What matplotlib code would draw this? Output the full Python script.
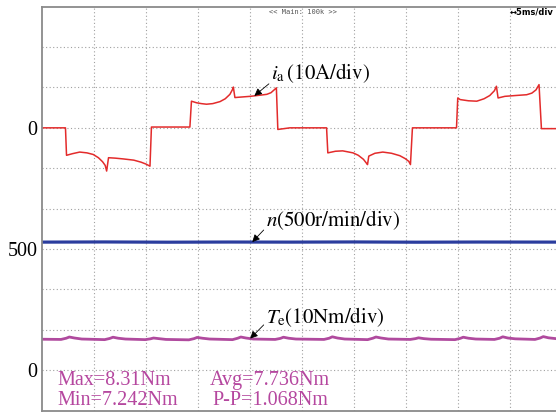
import numpy as np
import matplotlib
matplotlib.use("Agg")
import matplotlib.pyplot as plt

plt.rcParams['font.family'] = 'serif'
plt.rcParams['font.serif'] = ['Liberation Serif', 'DejaVu Serif']
plt.rcParams['mathtext.fontset'] = 'stix'

# phase current i_a (time in ms, current in A)
ia_t = [0, 2.23, 2.33, 2.9, 3.6, 4.3, 4.9, 5.4, 5.8, 6.05, 6.19, 6.37, 7.0,
        7.8, 8.8, 9.5, 10.0, 10.36,
        10.50, 14.20, 14.35, 14.85, 15.3, 15.8, 16.4, 17.1, 17.6, 18.05, 18.3,
        18.38, 18.53, 19.0, 20.0, 21.0, 21.6, 22.0, 22.35, 22.52,
        22.66, 23.82, 27.35, 27.47, 28.2, 28.9, 29.9, 30.4, 30.9, 31.2, 31.29,
        31.41, 32.0, 32.76, 33.6, 34.4, 34.9, 35.26, 35.42,
        35.61, 39.85, 39.97, 40.2, 41.0, 41.8, 42.5, 43.05, 43.5, 43.69,
        43.85, 44.5, 45.5, 46.6, 47.1, 47.5, 47.79, 48.02, 50]
ia_v = [0, 0, -6.8, -6.4, -6.0, -6.2, -6.6, -7.4, -8.4, -9.3, -10.7, -7.4, -7.5,
        -7.7, -8.0, -8.5, -9.0, -9.5,
        0.2, 0.2, 6.6, 6.2, 6.0, 5.85, 6.0, 6.5, 7.2, 8.3, 9.5,
        10.1, 7.5, 7.6, 7.8, 8.1, 8.3, 8.7, 9.5, 9.9,
        -0.4, 0, 0, -6.2, -5.8, -5.7, -6.2, -6.8, -7.8, -8.8, -9.1,
        -7.0, -6.3, -6.0, -6.3, -6.9, -7.6, -8.3, -9.1,
        0, 0, 7.4, 7.0, 6.7, 6.6, 7.2, 8.0, 9.2, 10.3,
        7.4, 7.8, 8.0, 8.2, 8.6, 9.4, 10.7, -0.2, -0.2]

# speed n (r/min)
n_t = [0, 6, 12, 18, 24, 30, 36, 42, 50]
n_v = [585, 587, 584, 586, 585, 587, 584, 586, 585]

# electromagnetic torque Te (Nm)
te_t = [0, 1.8, 2.3, 2.6, 3.1, 3.8,
        6.0, 6.5, 6.8, 7.3, 8.0,
        9.9, 10.4, 10.7, 11.2, 11.9,
        14.1, 14.6, 14.9, 15.4, 16.1,
        18.3, 18.8, 19.1, 19.6, 20.3,
        22.4, 22.9, 23.2, 23.7, 24.4,
        27.1, 27.6, 27.9, 28.4, 29.1,
        31.3, 31.8, 32.1, 32.6, 33.3,
        35.4, 35.9, 36.2, 36.7, 37.4,
        39.7, 40.2, 40.5, 41.0, 41.7,
        43.5, 44.0, 44.3, 44.8, 45.5,
        47.4, 47.9, 48.2, 48.7, 49.4, 50]
te_v = [7.65, 7.6, 7.9, 8.2, 7.95, 7.7,
        7.55, 7.85, 8.15, 7.9, 7.7,
        7.55, 7.75, 7.95, 7.8, 7.6,
        7.5, 7.8, 8.1, 7.9, 7.7,
        7.55, 7.9, 8.2, 7.95, 7.7,
        7.6, 7.85, 8.15, 7.9, 7.7,
        7.6, 7.9, 8.25, 7.95, 7.7,
        7.55, 7.9, 8.2, 7.95, 7.7,
        7.6, 7.8, 8.0, 7.8, 7.65,
        7.55, 7.85, 8.15, 7.9, 7.7,
        7.6, 7.9, 8.25, 7.95, 7.75,
        7.6, 7.95, 8.3, 8.0, 7.8, 7.75]

# scope channel settings: zero position (div) and scale per div
ia_zero, ia_scale = 7, 10.0
n_zero, n_scale = 3, 500.0
te_zero, te_scale = 1, 10.0

def to_div(vals, zero, scale):
    return zero + np.asarray(vals) / scale

W, H = 556, 412
fig = plt.figure(figsize=(W / 100, H / 100), dpi=100)
ax = fig.add_axes([42.3 / W, 1.5 / H, (562 - 42.3) / W, (410.5 - 6.7) / H])
ax.set_xlim(0, 50)
ax.set_ylim(0, 10)

ax.set_xticks(np.arange(5, 50, 5))
ax.set_yticks(np.arange(1, 10))
ax.set_xticklabels([])
ylabels = {1: '0', 4: '500', 7: '0'}
ax.set_yticklabels([ylabels.get(i, '') for i in range(1, 10)], fontsize=14.5)
ax.tick_params(length=0, pad=3.5)
ax.grid(True, color='#a0a0a0', lw=0.8, linestyle=(0, (1, 2.2)))
for s in ax.spines.values():
    s.set_color('#8a8a8a')
    s.set_linewidth(1.3)

red, blue, mag = '#e32b2b', '#2b3d9e', '#b04a9e'
ax.plot(ia_t, to_div(ia_v, ia_zero, ia_scale), color=red, lw=1.1)
ax.plot(n_t, to_div(n_v, n_zero, n_scale), color=blue, lw=2.3)
ax.plot(te_t, to_div(te_v, te_zero, te_scale), color=mag, lw=2.0)

arrow = dict(arrowstyle='-|>', color='black', lw=0.6, mutation_scale=11,
             shrinkA=0, shrinkB=0)

# annotations
t_ia = 20.4
ax.text(22.0, 8.35, r'$i_{\mathrm{a}}\,(\mathrm{10A/div})$', fontsize=15,
        va='center', ha='left')
ax.annotate('', xy=(t_ia, to_div(np.interp(t_ia, ia_t, ia_v), ia_zero, ia_scale)),
            xytext=(21.8, 8.09), arrowprops=arrow)

t_n = 20.2
ax.text(21.5, 4.72, r'$n\left(\mathrm{500r/min/div}\right)$', fontsize=15,
        va='center', ha='left')
ax.annotate('', xy=(t_n, to_div(np.interp(t_n, n_t, n_v), n_zero, n_scale)),
            xytext=(21.3, 4.47), arrowprops=arrow)

t_te = 20.0
ax.text(21.5, 2.32, r'$T_{\mathrm{e}}\left(\mathrm{10Nm/div}\right)$', fontsize=15,
        va='center', ha='left')
ax.annotate('', xy=(t_te, to_div(np.interp(t_te, te_t, te_v), te_zero, te_scale)),
            xytext=(21.3, 2.12), arrowprops=arrow)

# torque statistics
stat_kw = dict(fontsize=14.5, color='#b5479f', va='center', ha='left')
ax.text(1.5, 0.755, 'Max=8.31Nm', **stat_kw)
ax.text(1.5, 0.26, 'Min=7.242Nm', **stat_kw)
ax.text(16.1, 0.755, 'Avg=7.736Nm', **stat_kw)
ax.text(16.4, 0.26, 'P-P=1.068Nm', **stat_kw)

# scope header
ax.text(25.1, 9.87, '<< Main: 100k >>', fontsize=5, family='DejaVu Sans Mono',
        color='#555555', ha='center', va='center')
ax.text(49.2, 9.87, '\u21945ms/div', fontsize=6, family='DejaVu Sans',
        fontweight='bold', ha='right', va='center')

fig.savefig('out.png', dpi=100)
